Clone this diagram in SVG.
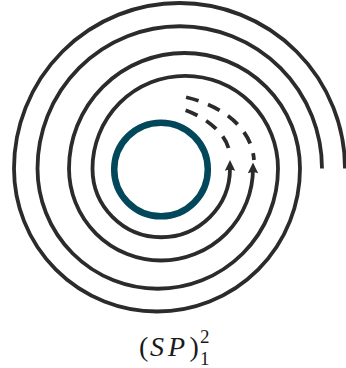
<svg xmlns="http://www.w3.org/2000/svg" width="346" height="368" viewBox="0 0 346 368">
  <style>
    .spiral { fill: none; stroke: #2b2b2b; stroke-width: 3.8; stroke-linecap: butt; }
    .dash { fill: none; stroke: #2b2b2b; stroke-width: 3.8; stroke-dasharray: 13 10; }
    .head { fill: #2b2b2b; }
    .core { fill: none; stroke: #03475b; stroke-width: 6.5; }
    .lbl { fill: #1a1a1a; font-family: "Liberation Serif", "DejaVu Serif", serif; }
    .it { font-style: italic; }
  </style>
  <defs>
    <path id="arrowhead" d="M0,0 L5.2,10.8 L0,9.2 L-5.2,10.8 Z"/>
  </defs>

  <g id="core">
    <circle class="core" cx="161" cy="169.5" r="46.8"/>
  </g>

  <g id="connectors">
    <path id="spiral-inner" class="spiral" d="M230,168.5 A68.75,68.75 0 0 1 92.5,168.5 A92.75,92.75 0 0 1 278,168.5 A120.25,120.25 0 0 1 37.5,168.5 A142.25,142.25 0 0 1 322,168.5"/>
    <path id="spiral-outer" class="spiral" d="M253,168.5 A92,92 0 0 1 69,168.5 A115.5,115.5 0 0 1 300,168.5 A143,143 0 0 1 14,168.5 A165.5,165.5 0 0 1 345,168.5"/>
    <use href="#arrowhead" class="head" x="230" y="160"/>
    <use href="#arrowhead" class="head" x="253" y="162.5"/>
    <path id="dash-inner" class="dash" d="M228.5,148 C224,132 205,117 185,110"/>
    <path id="dash-outer" class="dash" stroke-dashoffset="6" d="M254,160 C252,130 225,106 185,97"/>
  </g>

  <g id="label">
    <text class="lbl" y="356" font-size="28"><tspan x="139">(</tspan><tspan class="it" x="150">S</tspan><tspan class="it" x="168">P</tspan><tspan x="189.5">)</tspan></text>
    <text class="lbl" x="200" y="343" font-size="19">2</text>
    <text class="lbl" x="200" y="365" font-size="19">1</text>
  </g>
</svg>
